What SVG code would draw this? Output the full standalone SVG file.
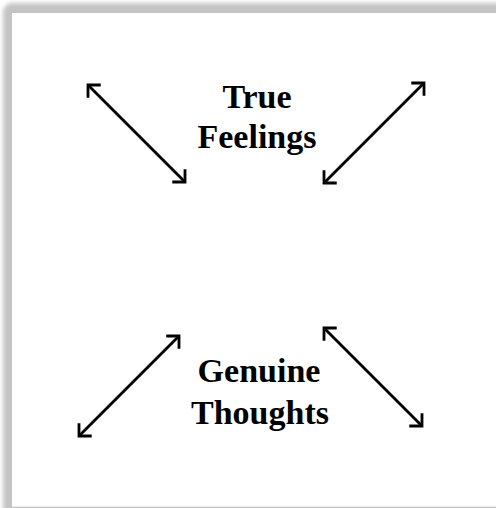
<svg xmlns="http://www.w3.org/2000/svg" width="496" height="508" viewBox="0 0 496 508">
  <style>
    .lbl { font-family: "Liberation Serif", "Times New Roman", serif; font-weight: bold; font-size: 34px; fill: #000; text-anchor: middle; }
    .arr { stroke: #000; stroke-width: 2.8; fill: none; marker-start: url(#head); marker-end: url(#head); }
  </style>
  <defs>
    <filter id="blur" x="-10%" y="-10%" width="120%" height="120%">
      <feGaussianBlur stdDeviation="2.2"/>
    </filter>
    <marker id="head" viewBox="-12 -12 24 24" markerWidth="24" markerHeight="24" refX="0" refY="0" markerUnits="userSpaceOnUse" orient="auto-start-reverse">
      <path d="M-9,-9 L0,0 L-9,9" fill="none" stroke="#000" stroke-width="2.8" stroke-linejoin="miter"/>
    </marker>
  </defs>
  <rect width="496" height="508" fill="#fff"/>
  <g id="frame">
    <rect x="3" y="3" width="520" height="540" rx="9" fill="#c4c4c4" filter="url(#blur)"/>
    <rect x="12" y="13" width="484" height="493" fill="#fff"/>
    <line x1="12" y1="506.5" x2="496" y2="506.5" stroke="#ececec" stroke-width="1"/>
  </g>
  <g id="connectors">
    <path class="arr" d="M88,85 L185,182"/>
    <path class="arr" d="M424,83 L324,183"/>
    <path class="arr" d="M179,336 L79,436"/>
    <path class="arr" d="M324,328 L422,426"/>
  </g>
  <g id="true-feelings">
    <text class="lbl" x="257" y="108">True</text>
    <text class="lbl" x="257" y="148">Feelings</text>
  </g>
  <g id="genuine-thoughts">
    <text class="lbl" x="259" y="382">Genuine</text>
    <text class="lbl" x="260" y="424">Thoughts</text>
  </g>
</svg>
